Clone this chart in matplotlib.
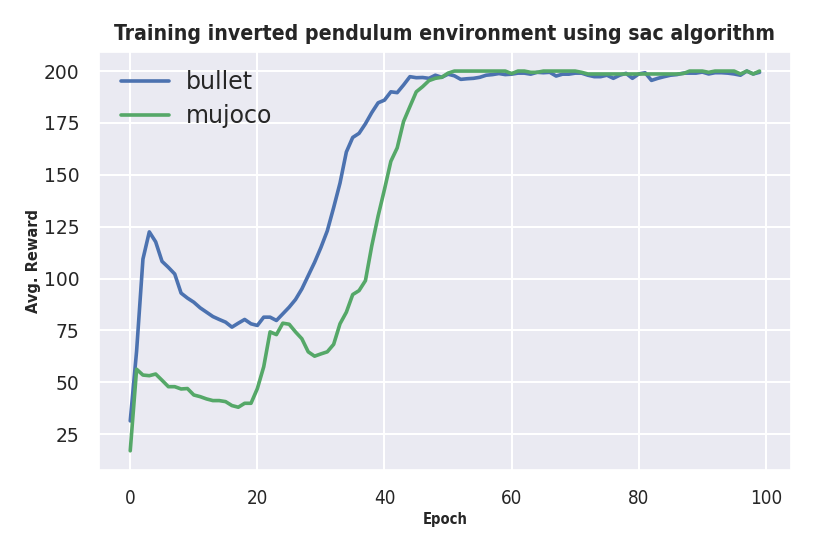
import numpy as np
import matplotlib
matplotlib.use("Agg")
import matplotlib.pyplot as plt
import seaborn as sns

sns.set_theme(style="darkgrid")
plt.rcParams['font.family'] = ['DejaVu Sans']

epochs = list(range(100))

bullet = [31.4, 65, 109.4, 122.5, 117.7, 108.3, 105.4, 102.2, 93, 90.6,
          88.6, 85.9, 83.8, 81.7, 80.3, 79, 76.6, 78.5, 80.3, 78.2,
          77.4, 81.4, 81.4, 79.8, 83.0, 86.2, 89.9, 95, 101.4, 107.8,
          115, 123, 134.2, 146, 161, 168, 170, 174.6, 180, 184.7,
          186, 190, 189.6, 193.3, 197.3, 196.8, 196.9, 196.5, 198, 197,
          198.5, 197.7, 196, 196.3, 196.5, 197, 198, 198.3, 198.8, 198.3,
          198.5, 199, 199, 198.5, 199.4, 199.2, 199.4, 197.6, 198.5, 198.5,
          199, 199, 198, 197.3, 197.3, 198, 196.5, 198, 198.9, 196.5,
          198.6, 199.2, 195.5, 196.5, 197.3, 198, 198.3, 199, 199, 199,
          199.5, 198.6, 199.2, 199.2, 199, 198.6, 198, 200, 198.6, 199.4]

mujoco = [17, 56.3, 53.5, 53.2, 54, 51, 47.9, 47.9, 46.8, 47,
          43.9, 43.1, 42, 41.2, 41.2, 40.7, 38.8, 38, 39.9, 39.9,
          47, 57.5, 74.3, 73, 78.5, 78, 74.3, 71, 64.7, 62.6,
          63.7, 64.7, 68.3, 78.2, 83.8, 92.3, 94.2, 99, 115.8, 130.2,
          143, 156.5, 163, 175.7, 182.9, 190, 192.5, 195.4, 196.5, 197,
          199, 200, 200, 200, 200, 200, 200, 200, 200, 200,
          198.8, 200, 200, 199.4, 199.4, 200, 200, 200, 200, 200,
          200, 199.4, 198.6, 198.6, 198.6, 198.6, 198.6, 198.6, 198.6, 198.6,
          198.6, 198.6, 198.6, 198.6, 198.6, 198.6, 198.6, 198.8, 200, 200,
          200, 199.4, 200, 200, 200, 200, 198.6, 200, 198.6, 200]

cond = dict(fontstretch="condensed")

fig = plt.figure(figsize=(8.3, 5.54), dpi=100)
ax = fig.add_axes([0.119, 0.152, 0.834, 0.754])
ax.plot(epochs, bullet, lw=2.6, color="#4C72B0", label="bullet")
ax.plot(epochs, mujoco, lw=2.6, color="#55A868", label="mujoco")
ax.grid(lw=1.5)
ax.set_title("Training inverted pendulum environment using sac algorithm",
             fontsize=15.2, fontweight="bold", pad=9, **cond)
ax.set_xlabel("Epoch", fontsize=10.5, fontweight="bold", labelpad=3, **cond)
ax.set_ylabel("Avg. Reward", fontsize=10.5, fontweight="bold", labelpad=2)
ax.tick_params(labelsize=13.5, pad=8)
for t in ax.get_xticklabels():
    t.set_fontstretch("condensed")
    t.set_fontsize(13.5)
ax.legend(loc="upper left", fontsize=17, frameon=False, handlelength=2.0,
          handletextpad=0.75, borderaxespad=0.35, labelspacing=0.45,
          bbox_to_anchor=(0.007, 1.0))
fig.savefig("out.png", dpi=100)
